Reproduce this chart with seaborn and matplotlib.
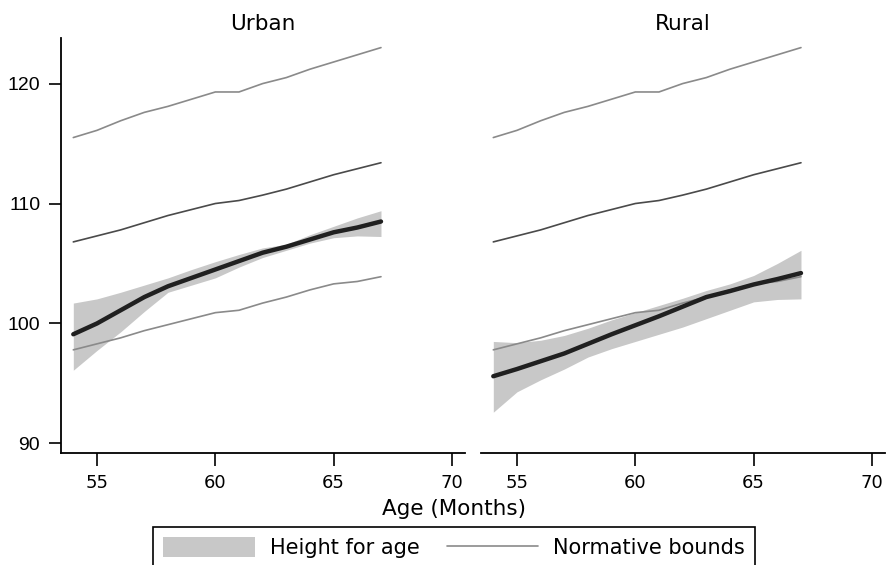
import numpy as np
import pandas as pd
import matplotlib
matplotlib.use("Agg")
import matplotlib.pyplot as plt
from matplotlib.patches import Patch
from matplotlib.lines import Line2D
import seaborn as sns

# Age in months
months = list(range(54, 68))

# Normative bounds (same for both panels)
norm_upper = [115.5, 116.1, 116.9, 117.6, 118.1, 118.7, 119.3, 119.3, 120.0, 120.5, 121.2, 121.8, 122.4, 123.0]
norm_median = [106.8, 107.3, 107.8, 108.4, 109.0, 109.5, 110.0, 110.25, 110.7, 111.2, 111.8, 112.4, 112.9, 113.4]
norm_lower = [97.8, 98.3, 98.8, 99.4, 99.9, 100.4, 100.9, 101.1, 101.7, 102.2, 102.8, 103.3, 103.5, 103.9]

# Height for age fit with confidence band
urban_fit = [99.1, 100.0, 101.1, 102.2, 103.1, 103.8, 104.5, 105.2, 105.9, 106.4, 107.0, 107.6, 108.0, 108.5]
urban_hi = [101.7, 102.05, 102.6, 103.2, 103.8, 104.5, 105.15, 105.75, 106.3, 106.6, 107.4, 108.1, 108.8, 109.4]
urban_lo = [96.1, 97.75, 99.3, 101.0, 102.6, 103.2, 103.8, 104.7, 105.5, 106.1, 106.7, 107.15, 107.3, 107.25]

rural_fit = [95.6, 96.2, 96.85, 97.5, 98.3, 99.1, 99.85, 100.6, 101.4, 102.2, 102.7, 103.25, 103.7, 104.2]
rural_hi = [98.5, 98.4, 98.6, 99.0, 99.6, 100.3, 100.9, 101.5, 102.1, 102.75, 103.3, 104.0, 105.0, 106.1]
rural_lo = [92.6, 94.3, 95.3, 96.2, 97.2, 97.9, 98.5, 99.1, 99.7, 100.4, 101.1, 101.8, 102.0, 102.05]

panels = ["Urban", "Rural"]
x_ticks = [55, 60, 65, 70]
y_ticks = [90, 100, 110, 120]

sns.set_style("white")
plt.rcParams["font.family"] = ["DejaVu Sans"]
plt.rcParams.update({"text.color": "black", "axes.labelcolor": "black",
                     "xtick.color": "black", "ytick.color": "black"})

W, H = 888, 565
fig = plt.figure(figsize=(W / 100, H / 100), dpi=100)
ax1 = fig.add_axes([61 / W, 1 - 453 / H, 404 / W, 415 / H])
ax2 = fig.add_axes([481 / W, 1 - 453 / H, 404 / W, 415 / H], sharey=ax1)

fits = {"Urban": (urban_fit, urban_lo, urban_hi), "Rural": (rural_fit, rural_lo, rural_hi)}

for ax, name in zip([ax1, ax2], panels):
    fit, lo, hi = fits[name]
    df = pd.DataFrame({"Age": months, "fit": fit, "lo": lo, "hi": hi,
                       "upper": norm_upper, "median": norm_median, "lower": norm_lower})
    ax.fill_between(df["Age"], df["lo"], df["hi"], color="#c8c8c8", lw=0, zorder=1)
    sns.lineplot(data=df, x="Age", y="upper", ax=ax, color="#8a8a8a", lw=1.2, zorder=2)
    sns.lineplot(data=df, x="Age", y="median", ax=ax, color="#4a4a4a", lw=1.2, zorder=2)
    sns.lineplot(data=df, x="Age", y="lower", ax=ax, color="#8a8a8a", lw=1.2, zorder=2)
    sns.lineplot(data=df, x="Age", y="fit", ax=ax, color="#202020", lw=3.2, zorder=3)

    ax.set_xlim(53.48, 70.55)
    ax.set_ylim(89.2, 123.8)
    ax.set_xticks(x_ticks)
    ax.set_xticklabels([str(t) for t in x_ticks], fontsize=13)
    ax.set_xlabel("")
    ax.set_ylabel("")
    ax.set_title(name, fontsize=15.5, pad=6, color="black")
    ax.tick_params(axis="x", bottom=True, direction="out", length=9, width=1.2, pad=6, colors="black")
    for s in ["top", "right"]:
        ax.spines[s].set_visible(False)
    ax.spines["bottom"].set_linewidth(1.3)
    ax.spines["left"].set_linewidth(1.3)
    ax.spines["bottom"].set_color("black")
    ax.spines["left"].set_color("black")

ax1.set_yticks(y_ticks)
ax1.set_yticklabels([str(t) for t in y_ticks], fontsize=14, family="Liberation Sans")
ax1.tick_params(axis="y", left=True, direction="out", length=9, width=1.2, pad=6, colors="black")
ax2.spines["left"].set_visible(False)
ax2.tick_params(axis="y", left=False, labelleft=False)

fig.text(454 / W, 1 - 509 / H, "Age (Months)", ha="center", va="center", fontsize=15.5)

handles = [Patch(facecolor="#c8c8c8", edgecolor="none"),
           Line2D([], [], color="#8a8a8a", lw=1.2)]
leg = fig.legend(handles, ["Height for age", "Normative bounds"], loc="upper center",
                 bbox_to_anchor=(454 / W, 1 - 527 / H), ncol=2, fontsize=15,
                 frameon=True, fancybox=False, framealpha=1, edgecolor="black",
                 handlelength=4.4, handleheight=1.1, handletextpad=0.7,
                 columnspacing=1.3, borderpad=0.5, borderaxespad=0)
leg.get_frame().set_linewidth(1.2)

fig.savefig("out.png", dpi=100)
